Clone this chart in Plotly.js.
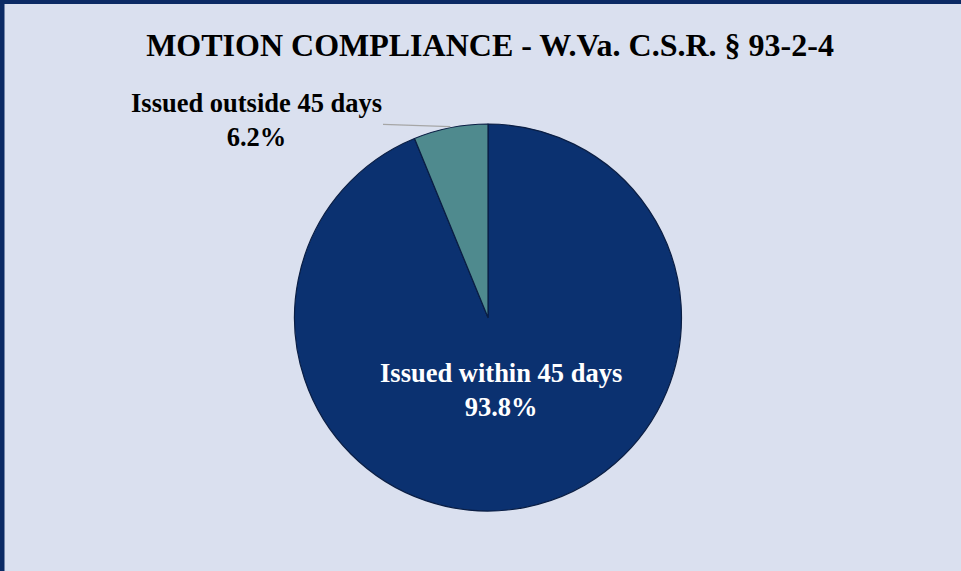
<!DOCTYPE html>
<html>
<head>
<meta charset="utf-8">
<script src="https://cdn.plot.ly/plotly-3.0.1.min.js"></script>
<style>
html,body{margin:0;padding:0;background:#dae0ef;}
#chart{width:961px;height:571px;}
</style>
</head>
<body>
<div id="chart"></div>
<script>
const labels = ["Issued within 45 days", "Issued outside 45 days"];
const values = [93.8, 6.2];
const colors = ["#0b3170", "#4f8a8e"];
const titleText = "MOTION COMPLIANCE - W.Va. C.S.R. § 93-2-4";

const fmt = (i) => labels[i] + "<br>" + values[i].toFixed(1) + "%";

// geometry of the pie in paper coordinates
const dom = {x: [0.3049, 0.7107], y: [0.1051, 0.7828]};
const total = values.reduce((a, b) => a + b, 0);
// midpoint angle of the small slice (clockwise from 12 o'clock)
const midFrac = (values[0] + values[1] / 2) / total;
const ang = midFrac * 2 * Math.PI;
const R = 195, CXpx = 488, CYpx = 318;
const edgeX = (CXpx + R * Math.sin(ang)) / 961;
const edgeY = 1 - (CYpx - R * Math.cos(ang)) / 571;

const font = "Liberation Serif, Times New Roman, serif";

const data = [{
  type: "pie",
  labels: labels,
  values: values,
  sort: false,
  direction: "clockwise",
  rotation: 0,
  textinfo: "none",
  hoverinfo: "label+percent",
  marker: {colors: colors, line: {color: "#0a1e44", width: 1.2}},
  domain: dom,
  showlegend: false
}];

const layout = {
  width: 961, height: 571,
  margin: {l: 0, r: 0, t: 0, b: 0},
  paper_bgcolor: "#dae0ef",
  plot_bgcolor: "#dae0ef",
  title: {
    text: "<b>" + titleText + "</b>",
    font: {family: font, size: 32, color: "#000000"},
    x: 490/961, xanchor: "center", y: 1 - 45/571, yanchor: "middle", yref: "paper"
  },
  annotations: [
    {
      xref: "paper", yref: "paper",
      x: 501/961, y: 1 - 390/571,
      xanchor: "center", yanchor: "middle",
      text: "<b>" + fmt(0) + "</b>",
      showarrow: false,
      font: {family: font, size: 26.5, color: "#ffffff"},
      align: "center"
    },
    {
      xref: "paper", yref: "paper",
      x: edgeX, y: edgeY,
      axref: "pixel", ayref: "pixel",
      ax: 256 - (edgeX * 961), ay: 120 - (1 - edgeY) * 571,
      text: "<b>" + fmt(1) + "</b>",
      showarrow: true, arrowhead: 0, arrowwidth: 1.2, arrowcolor: "#a6a6a6",
      font: {family: font, size: 26.5, color: "#000000"},
      align: "center"
    }
  ],
  shapes: [
    {type: "line", xref: "paper", yref: "paper", x0: 0, x1: 1, y0: 1, y1: 1, line: {color: "#0b2a64", width: 8}},
    {type: "line", xref: "paper", yref: "paper", x0: 0, x1: 0, y0: 0, y1: 1, line: {color: "#0b2a64", width: 9}}
  ]
};

Plotly.newPlot("chart", data, layout, {displayModeBar: false, staticPlot: true});
</script>
</body>
</html>
